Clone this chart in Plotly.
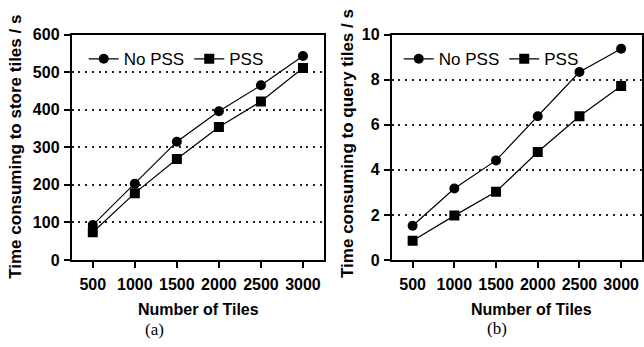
import plotly.graph_objects as go

tiles = [500, 1000, 1500, 2000, 2500, 3000]
store_no_pss = [93, 203, 315, 396, 465, 543]
store_pss = [74, 178, 269, 354, 422, 511]
query_no_pss = [1.52, 3.17, 4.42, 6.38, 8.34, 9.37]
query_pss = [0.85, 1.97, 3.03, 4.79, 6.38, 7.72]

W, H = 644, 347
fig = go.Figure()

line = dict(color="black", width=1.2)
fig.add_trace(go.Scatter(x=tiles, y=store_no_pss, name="No PSS", mode="lines+markers",
                         line=line, marker=dict(symbol="circle", size=10, color="black"),
                         xaxis="x", yaxis="y", legend="legend"))
fig.add_trace(go.Scatter(x=tiles, y=store_pss, name="PSS", mode="lines+markers",
                         line=line, marker=dict(symbol="square", size=10, color="black"),
                         xaxis="x", yaxis="y", legend="legend"))
fig.add_trace(go.Scatter(x=tiles, y=query_no_pss, name="No PSS", mode="lines+markers",
                         line=line, marker=dict(symbol="circle", size=10, color="black"),
                         xaxis="x2", yaxis="y2", legend="legend2"))
fig.add_trace(go.Scatter(x=tiles, y=query_pss, name="PSS", mode="lines+markers",
                         line=line, marker=dict(symbol="square", size=10, color="black"),
                         xaxis="x2", yaxis="y2", legend="legend2"))

SANS = "Liberation Sans"
tickfont = dict(family=SANS, size=16, color="black", weight="bold")
ydom = [(H - 265) / H, (H - 28) / H]

xcommon = dict(range=[250, 3250], tickvals=tiles, ticks="outside", ticklen=6, tickwidth=2,
               tickcolor="black", showline=True, linecolor="black", linewidth=2, mirror=True,
               showgrid=False, zeroline=False, tickfont=tickfont, ticklabelstandoff=3)
ycommon = dict(ticks="outside", ticklen=6, tickwidth=2, tickcolor="black", showline=True,
               linecolor="black", linewidth=2, mirror=True, showgrid=True, gridcolor="#222",
               griddash="2px,4.7px", gridwidth=2, zeroline=False, tickfont=tickfont, domain=ydom,
               ticklabelstandoff=1)

legfont = dict(family=SANS, size=17, color="black")
fig.update_layout(
    width=W, height=H, margin=dict(l=0, r=0, t=0, b=0),
    paper_bgcolor="white", plot_bgcolor="white",
    xaxis=dict(domain=[72 / W, 325 / W], anchor="y", **xcommon),
    yaxis=dict(range=[0, 600], tickvals=[0, 100, 200, 300, 400, 500, 600], anchor="x", **ycommon),
    xaxis2=dict(domain=[393 / W, 1.0], anchor="y2", **xcommon),
    yaxis2=dict(range=[0, 10], tickvals=[0, 2, 4, 6, 8, 10], anchor="x2", **ycommon),
    legend=dict(orientation="h", x=84 / W, y=1 - 35 / H, xanchor="left", yanchor="top",
                font=legfont, bgcolor="rgba(0,0,0,0)", itemwidth=30, tracegroupgap=0),
    legend2=dict(orientation="h", x=400 / W, y=1 - 35 / H, xanchor="left", yanchor="top",
                 font=legfont, bgcolor="rgba(0,0,0,0)", itemwidth=30, tracegroupgap=0),
    showlegend=True,
)

titlefont = dict(family=SANS, size=17, color="black", weight="bold")
serif = dict(family="Liberation Serif", size=17, color="black")
ann = [
    dict(text="Time consuming to store tiles / s", x=16 / W, y=1 - 146 / H, textangle=-90, font=titlefont),
    dict(text="Time consuming to query tiles / s", x=348 / W, y=1 - 142 / H, textangle=-90, font=titlefont),
    dict(text="Number of Tiles", x=199 / W, y=1 - 317 / H, font=dict(titlefont, size=16)),
    dict(text="Number of Tiles", x=533 / W, y=1 - 317 / H, font=dict(titlefont, size=16)),
    dict(text="(a)", x=155 / W, y=1 - 338 / H, font=serif),
    dict(text="(b)", x=499 / W, y=1 - 337 / H, font=serif),
]
for a in ann:
    fig.add_annotation(xref="paper", yref="paper", showarrow=False, xanchor="center", yanchor="middle", **a)

fig.write_html("out.html")
